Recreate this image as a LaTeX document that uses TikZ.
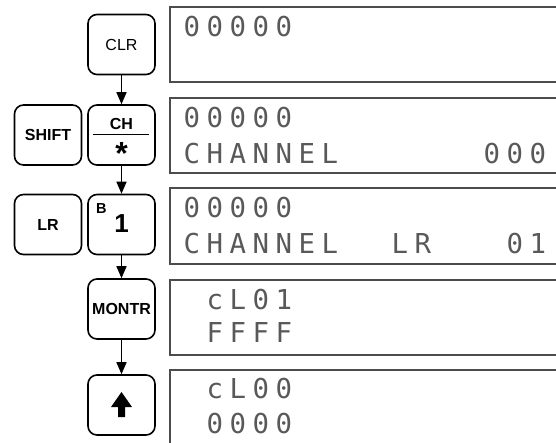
\documentclass[tikz,border=0pt]{standalone}
\usepackage{fontspec}
\setsansfont{Liberation Sans}
\newfontfamily\lcdfont{DejaVu Sans Mono}[LetterSpace=23.7]
\usetikzlibrary{arrows.meta}
\tikzset{
    key/.style={draw, line width=1.6pt, rounded corners=9pt, minimum width=67pt, minimum height=60pt, inner sep=0pt, font=\sffamily\fontsize{16}{16}\selectfont},
    keytext/.style={inner sep=0pt, anchor=base, font=\sffamily\bfseries\fontsize{16}{16}\selectfont},
    lcd/.style={draw=black!70, line width=1.2pt},
    lcdtext/.style={anchor=base west, inner sep=0pt, text=black!65, font=\lcdfont\fontsize{27.4}{27.4}\selectfont},
    flow/.style={line width=1.5pt, -{Triangle[length=12pt,width=10pt]}}
}

\begin{document}
\begin{tikzpicture}[x=1pt, y=-1pt]%Monitor LR channel
    \useasboundingbox (0,0) rectangle (556,442);
    \clip (0,0) rectangle (556,442);
    %the display panels
    \draw[lcd] (600,7) -- (170,7) -- (170,82) -- (600,82);
    \draw[lcd] (600,98) -- (170,98) -- (170,173) -- (600,173);
    \draw[lcd] (600,188) -- (170,188) -- (170,264) -- (600,264);
    \draw[lcd] (600,280) -- (170,280) -- (170,355) -- (600,355);
    \draw[lcd] (600,370) -- (170,370) -- (170,460);
    %the display texts
    \node[lcdtext] (disp1a) at (183.5,36) {00000};
    \node[lcdtext] (disp2a) at (183.5,127) {00000};
    \node[lcdtext] (disp2b) at (183.5,163) {CHANNEL};
    \node[lcdtext] (disp2c) at (483.5,163) {000};
    \node[lcdtext] (disp3a) at (183.5,217) {00000};
    \node[lcdtext] (disp3b) at (183.5,253) {CHANNEL};
    \node[lcdtext] (disp3c) at (391.5,253) {LR};
    \node[lcdtext] (disp3d) at (506.5,253) {01};
    \node[lcdtext] (disp4a) at (206.5,309) {cL01};
    \node[lcdtext] (disp4b) at (206.5,342) {FFFF};
    \node[lcdtext] (disp5a) at (206.5,398) {cL00};
    \node[lcdtext] (disp5b) at (206.5,433) {0000};
    %the keys
    \node[key] (clr) at (121.5,44.5) {CLR};
    \node[key] (shift) at (48,135) {\bfseries SHIFT};
    \node[key] (ch) at (121.5,135) {};
    \node[key] (lr) at (48,224.5) {\bfseries LR};
    \node[key] (one) at (121.5,224.5) {};
    \node[key] (montr) at (121.5,309) {\bfseries MONTR};
    \node[key] (up) at (121.5,405) {};
    %the key faces
    \node[keytext] (chname) at (121.5,129) {CH};
    \draw[line width=1.3pt] (93,134.5) -- (149,134.5);
    \node[keytext, font=\sffamily\bfseries\fontsize{32}{32}\selectfont] (star) at (121.5,164.5) {*};
    \node[keytext, anchor=base west, font=\sffamily\bfseries\fontsize{14.5}{14.5}\selectfont] (bname) at (96,213.5) {B};
    \node[keytext, font=\sffamily\bfseries\fontsize{26}{26}\selectfont] (onename) at (121.5,232) {1};
    \fill[shift={(up.center)}] (0,-13) -- (10.5,2) -- (3.5,2) -- (3.5,12) -- (-3.5,12) -- (-3.5,2) -- (-10.5,2) -- cycle;
    %the arrows
    \draw[flow] (clr) -- (ch);
    \draw[flow] (ch) -- (one);
    \draw[flow] (one) -- (montr);
    \draw[flow] (montr) -- (up);
\end{tikzpicture}
\end{document}
